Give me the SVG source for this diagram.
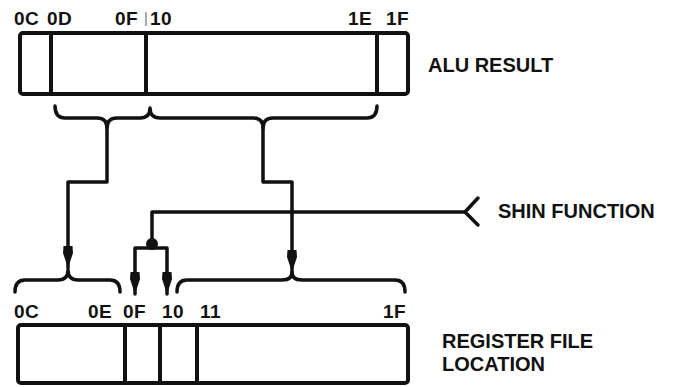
<svg xmlns="http://www.w3.org/2000/svg" width="673" height="387" viewBox="0 0 673 387">
<defs>
<style>
.ln{fill:none;stroke:#111;stroke-width:3.5;stroke-linejoin:round;stroke-linecap:round}
.box{fill:#fff;stroke:#111;stroke-width:4}
.dv{stroke:#111;stroke-width:4}
.lb{font-family:"Liberation Sans",Arial,sans-serif;font-weight:bold;font-size:19px;letter-spacing:0.5px;fill:#111}
.tt{font-family:"Liberation Sans",Arial,sans-serif;font-weight:bold;font-size:20px;fill:#111}
</style>
<marker id="ah" markerUnits="userSpaceOnUse" markerWidth="26" markerHeight="12" refX="22" refY="5" orient="auto" viewBox="0 0 26 10">
<path d="M0,0.5 L7,0 L22,5 L7,10 L0,9.5 Z" fill="#111"/>
</marker>
</defs>
<rect width="673" height="387" fill="#fff"/>

<g id="alu-result">
<rect class="box" x="20" y="33" width="388" height="61" rx="3"/>
<line class="dv" x1="51" y1="33" x2="51" y2="94"/>
<line class="dv" x1="146" y1="33" x2="146" y2="94"/>
<line class="dv" x1="377" y1="33" x2="377" y2="94"/>
<line x1="146" y1="12" x2="146" y2="26" stroke="#555" stroke-width="1"/>
<text class="lb" x="14" y="25">0C</text>
<text class="lb" x="47" y="25">0D</text>
<text class="lb" x="115" y="25">0F</text>
<text class="lb" x="150" y="25">10</text>
<text class="lb" x="348" y="25">1E</text>
<text class="lb" x="386" y="25">1F</text>
<text class="tt" x="428" y="72" font-size="21">ALU RESULT</text>
</g>

<g id="register-file">
<rect class="box" x="18" y="325" width="390" height="58" rx="3"/>
<line class="dv" x1="125" y1="325" x2="125" y2="383"/>
<line class="dv" x1="160" y1="325" x2="160" y2="383"/>
<line class="dv" x1="197" y1="325" x2="197" y2="383"/>
<text class="lb" x="14" y="318">0C</text>
<text class="lb" x="88" y="318">0E</text>
<text class="lb" x="123" y="318">0F</text>
<text class="lb" x="162" y="318">10</text>
<text class="lb" x="200" y="318">11</text>
<text class="lb" x="383" y="318">1F</text>
<text class="tt" x="442" y="348" font-size="21">REGISTER FILE</text>
<text class="tt" x="442" y="371" font-size="21">LOCATION</text>
</g>

<g id="shin-function">
<text class="tt" x="498" y="218">SHIN FUNCTION</text>
</g>

<g id="connectors">
<path class="ln" d="M55,106 Q55,118 65,118 H97 Q107,118 107,128 Q107,118 117,118 H140 Q150,118 150,108 Q150,118 160,118 H253 Q263,118 263,128 Q263,118 273,118 H367 Q377,118 377,106"/>
<path class="ln" d="M107,128 V182 H68 V268" marker-end="url(#ah)"/>
<path class="ln" d="M263,128 V182 H292 V272" marker-end="url(#ah)"/>
<path class="ln" d="M15,292 Q15,280 25,280 H58 Q68,280 68,270 Q68,280 78,280 H110 Q120,280 120,292"/>
<path class="ln" d="M177,292 Q177,280 187,280 H282 Q292,280 292,272 Q292,280 302,280 H395 Q405,280 405,292"/>
<path class="ln" d="M465,212 H152 V244"/>
<path class="ln" d="M478,198 L465,212 L478,225"/>
<circle cx="152" cy="244" r="6" fill="#111"/>
<path class="ln" d="M152,248 H135 V294" marker-end="url(#ah)"/>
<path class="ln" d="M152,248 H167 V294" marker-end="url(#ah)"/>
</g>
</svg>
